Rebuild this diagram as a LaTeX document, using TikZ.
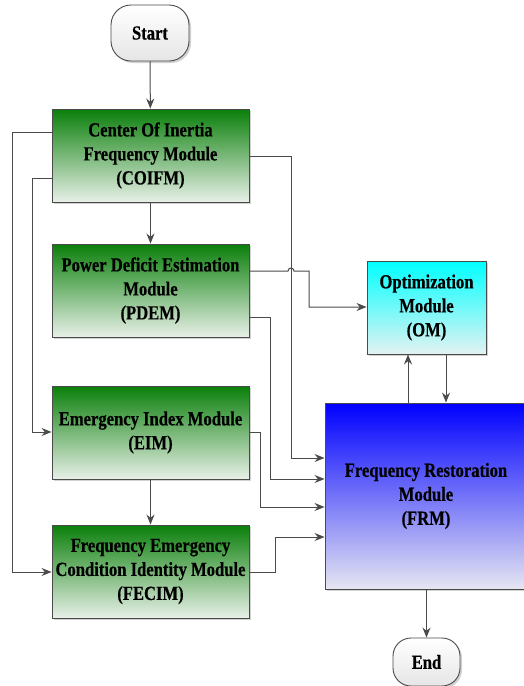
\documentclass[tikz,border=0pt]{standalone}
\usepackage{fontspec}
\setmainfont{Liberation Serif}[FakeStretch=0.83,FakeBold=0.4]
\usetikzlibrary{arrows.meta,shadows}
\definecolor{lc}{HTML}{4A4A4A}
\definecolor{gtop}{HTML}{0A7F0A}
\definecolor{gbot}{HTML}{E8F0E8}
\definecolor{ctop}{HTML}{00FFFF}
\definecolor{cbot}{HTML}{E4F2F2}
\definecolor{btop}{HTML}{0000FF}
\definecolor{bbot}{HTML}{E6E6F2}
\tikzset{
  box/.style={draw=lc, line width=0.9pt, rectangle, inner sep=0pt, align=center,
    font=\fontsize{20}{24}\selectfont\bfseries,
    drop shadow={shadow xshift=2pt, shadow yshift=-2pt, fill=black, opacity=0.18}},
  gbox/.style={box, top color=gtop, bottom color=gbot, minimum width=197pt, minimum height=93pt},
  term/.style={draw=lc, line width=0.9pt, rectangle, rounded corners=20pt, top color=white, bottom color=black!10,
    font=\fontsize{20}{24}\selectfont\bfseries,
    drop shadow={shadow xshift=2pt, shadow yshift=-2pt, fill=black, opacity=0.18}},
  conn/.style={draw=lc, line width=1pt},
  arr/.style={conn, -{Stealth[length=10pt,width=8pt]}}
}
\begin{document}
\begin{tikzpicture}[x=1pt,y=-1pt]
\useasboundingbox (0,0) rectangle (523,686);
\node[term, minimum width=78pt, minimum height=56pt] (start) at (150,33) {Start};
\node[gbox] (coifm) at (150.5,155.5) {Center Of Inertia\\Frequency Module\\(COIFM)};
\node[gbox] (pdem) at (150.5,290.5) {Power Deficit Estimation\\Module\\(PDEM)};
\node[gbox] (eim) at (150.5,432.5) {Emergency Index Module\\(EIM)};
\node[gbox] (fecim) at (150.5,571.5) {Frequency Emergency\\Condition Identity Module\\(FECIM)};
\node[box, top color=ctop, bottom color=cbot, minimum width=119pt, minimum height=93pt] (om) at (426.5,307.5) {Optimization\\Module\\(OM)};
\node[box, top color=btop, bottom color=bbot, minimum width=202pt, minimum height=186pt] (frm) at (426,496) {Frequency Restoration\\Module\\(FRM)};
\node[term, minimum width=67pt, minimum height=48pt, rounded corners=18pt] (end) at (426.5,662) {End};

\coordinate (c1) at (12,132);
\coordinate (c2) at (12,572);
\coordinate (c3) at (32,178);
\coordinate (c4) at (32,432);

\draw[arr] (start) -- (coifm);
\draw[arr] (coifm) -- (pdem);
\draw[arr] (eim) -- (fecim);
\draw[arr] (frm.south -| end) -- (end);
\draw[arr] (coifm.west |- c1) -- (c1) -- (c2) -- (fecim.west |- c2);
\draw[arr] (coifm.west |- c3) -- (c3) -- (c4) -- (eim.west |- c4);
\draw[arr] (coifm.east |- 0,156) -- (291,156) -- (291,458) -- (frm.west |- 0,458);
\draw[arr] (pdem.east |- 0,271) -- (288,271) arc[start angle=180, end angle=0, radius=3pt] -- (309,271) -- (309,307) -- (om.west |- 0,307);
\draw[arr] (pdem.east |- 0,317) -- (270,317) -- (270,479) -- (frm.west |- 0,479);
\draw[arr] (eim.east |- 0,432) -- (260,432) -- (260,507) -- (frm.west |- 0,507);
\draw[arr] (fecim.east |- 0,572) -- (275,572) -- (275,537) -- (frm.west |- 0,537);
\draw[arr] (frm.north -| 408,0) -- (om.south -| 408,0);
\draw[arr] (om.south -| 446,0) -- (frm.north -| 446,0);
\end{tikzpicture}
\end{document}
